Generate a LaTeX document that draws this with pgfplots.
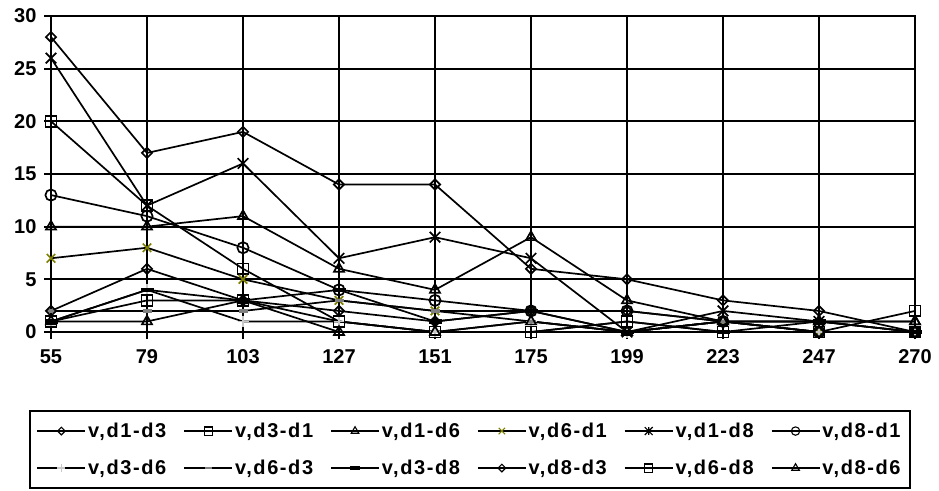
\documentclass[border=0pt]{standalone}
\usepackage{fontspec}
\setmainfont{Liberation Sans}
\newfontfamily\legfont{Liberation Sans}[LetterSpace=8]
\usepackage{pgfplots}
\pgfplotsset{compat=1.18}
\usepackage{pgfplotstable}

\definecolor{xolive}{RGB}{128,128,0}
\definecolor{lgray}{RGB}{200,200,200}
\definecolor{mgray}{RGB}{128,128,128}

\pgfdeclareplotmark{xstar}{%
  \pgfpathmoveto{\pgfqpoint{-.75\pgfplotmarksize}{-.75\pgfplotmarksize}}%
  \pgfpathlineto{\pgfqpoint{.75\pgfplotmarksize}{.75\pgfplotmarksize}}%
  \pgfpathmoveto{\pgfqpoint{-.75\pgfplotmarksize}{.75\pgfplotmarksize}}%
  \pgfpathlineto{\pgfqpoint{.75\pgfplotmarksize}{-.75\pgfplotmarksize}}%
  \pgfpathmoveto{\pgfqpoint{0pt}{-.75\pgfplotmarksize}}%
  \pgfpathlineto{\pgfqpoint{0pt}{.75\pgfplotmarksize}}%
  \pgfusepathqstroke
}
\pgfdeclareplotmark{dashbar}{%
  \pgfpathrectangle{\pgfqpoint{-\pgfplotmarksize}{-.35\pgfplotmarksize}}{\pgfqpoint{2\pgfplotmarksize}{.7\pgfplotmarksize}}%
  \pgfusepathqfill
}

% x: category index (0=55, 1=79, ..., 9=270)
\pgfplotstableread{
x d13 d31 d16 d61 d18 d81 d36 d63 d38 d83 d68 d86
0 28  20  10  7   26  13  1   2   1   2   1   1
1 17  12  10  8   12  11  4   2   4   6   3   1
2 19  6   11  5   16  8   1   2   3   3   3   3
3 14  1   6   3   7   4   1   3   4   2   1   0
4 14  0   4   2   9   3   0   2   1   1   0   0
5 6   0   9   2   7   2   1   1   2   2   0   1
6 5   1   3   0   0   2   0   0   0   2   1   0
7 3   0   1   1   2   1   1   1   0   1   0   1
8 2   0   1   0   1   0   0   1   1   0   0   1
9 0   2   1   0   0   0   0   0   0   0   0   1
}\data

\begin{document}
\begin{tikzpicture}
\begin{axis}[
  scale only axis, width=864pt, height=316pt,
  xmin=0, xmax=9, ymin=0, ymax=30,
  xtick={0,...,9},
  xticklabels={55,79,103,127,151,175,199,223,247,270},
  ytick={0,5,...,30},
  grid=major,
  major grid style={black, line width=2pt},
  axis line style={black, line width=2pt},
  tick style={black, line width=2pt},
  tick align=outside, major tick length=7pt,
  xtick pos=bottom, ytick pos=left,
  ticklabel style={font=\fontsize{20}{24}\selectfont\bfseries},
  /pgf/number format/assume math mode=true,
  xticklabel style={yshift=-7pt},
  yticklabel style={xshift=-4pt},
  every axis plot/.append style={black, line width=1.7pt},
  legend columns=6,
  legend cell align=left,
  legend image code/.code={%
    \draw[mark repeat=2,mark phase=2,#1,every mark/.append style={scale=0.75, line width=1.1pt}] plot coordinates {(0pt,0pt) (24pt,0pt) (48pt,0pt)};},
  legend style={at={(0.4844,-0.247)}, anchor=north, draw=black, line width=2pt,
    font=\legfont\fontsize{20}{24}\selectfont\bfseries,
    inner xsep=7pt, inner ysep=10pt, row sep=17pt,
    /tikz/every even column/.append style={column sep=15pt}},
  clip=false,
]
\addplot[mark=square, mark size=3.6pt, mark options={rotate=45, fill=white, solid}] table[x=x,y=d13]{\data};
\addlegendentry{v,d1-d3}
\addplot[mark=square, mark size=5.4pt, mark options={fill=white, solid}] table[x=x,y=d31]{\data};
\addlegendentry{v,d3-d1}
\addplot[mark=triangle, mark size=5.8pt, mark options={fill=white, solid}] table[x=x,y=d16]{\data};
\addlegendentry{v,d1-d6}
\addplot[mark=x, mark size=6pt, mark options={xolive, solid}] table[x=x,y=d61]{\data};
\addlegendentry{v,d6-d1}
\addplot[mark=xstar, mark size=7pt, mark options={black, solid}] table[x=x,y=d18]{\data};
\addlegendentry{v,d1-d8}
\addplot[mark=o, mark size=5.6pt, mark options={fill=white, solid}] table[x=x,y=d81]{\data};
\addlegendentry{v,d8-d1}
\addplot[mark=+, mark size=5.5pt, mark options={lgray, solid}] table[x=x,y=d36]{\data};
\addlegendentry{v,d3-d6}
\addplot[mark=dashbar, mark size=4.5pt, mark options={fill=mgray, draw=none, solid}] table[x=x,y=d63]{\data};
\addlegendentry{v,d6-d3}
\addplot[mark=dashbar, mark size=6.5pt, mark options={fill=black, draw=none, solid}] table[x=x,y=d38]{\data};
\addlegendentry{v,d3-d8}
\addplot[mark=square, mark size=3.6pt, mark options={rotate=45, fill=white, solid}] table[x=x,y=d83]{\data};
\addlegendentry{v,d8-d3}
\addplot[mark=square, mark size=5.4pt, mark options={fill=white, solid}] table[x=x,y=d68]{\data};
\addlegendentry{v,d6-d8}
\addplot[mark=triangle, mark size=5.8pt, mark options={fill=white, solid}] table[x=x,y=d86]{\data};
\addlegendentry{v,d8-d6}
\coordinate (BL) at (rel axis cs:0,0);
\coordinate (TR) at (rel axis cs:1,1);
\end{axis}
\pgfresetboundingbox
\path ([shift={(-51pt,-158pt)}]BL) rectangle ([shift={(24pt,16pt)}]TR);
\end{tikzpicture}
\end{document}
